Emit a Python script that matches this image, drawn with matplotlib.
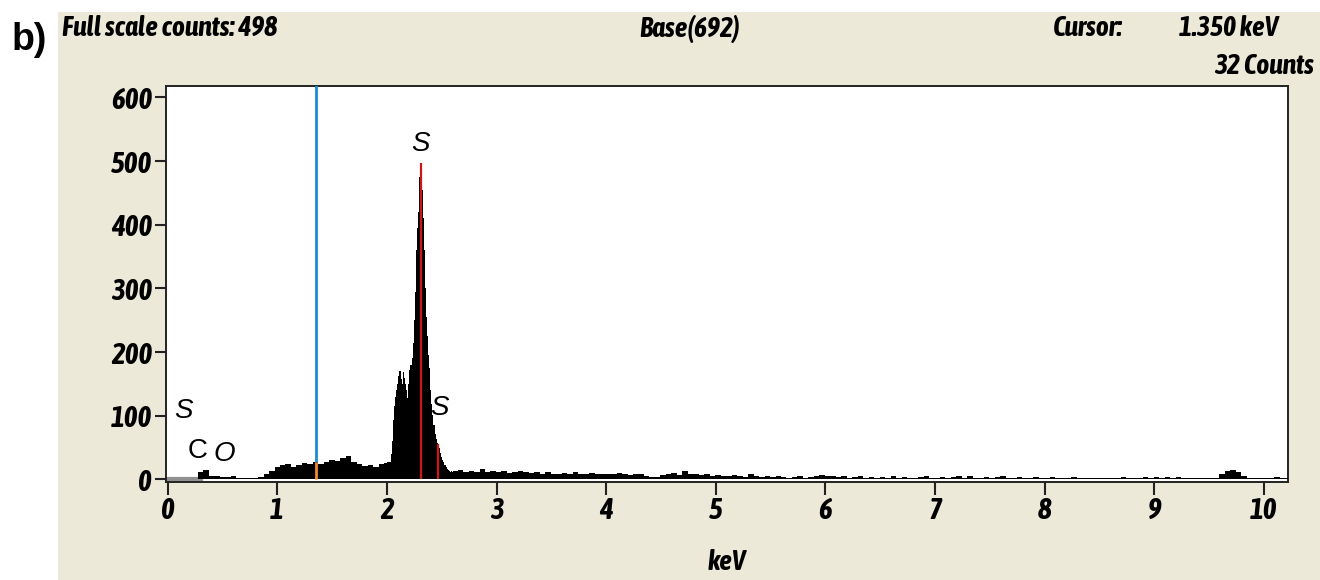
import matplotlib
matplotlib.use("Agg")
import matplotlib.pyplot as plt
from matplotlib import font_manager
from matplotlib.patches import Rectangle
import numpy as np

# ---- spectrum data (counts per channel) ----
# 0.00 - 1.95 keV, 0.05 keV channels
low_start, low_step = 0.00, 0.05
low_counts = [0, 0, 0, 0, 0, 0, 11, 15, 6, 5,
              4, 4, 5, 3, 3, 3, 3, 4, 9, 13,
              19, 22, 24, 20, 23, 26, 24, 27, 25, 28,
              30, 29, 33, 37, 27, 25, 21, 22, 20, 24]

# 2.00 - 2.61 keV, 0.01 keV channels (S K peak)
peak_start, peak_step = 2.00, 0.01
peak_counts = [26, 27, 27, 28, 40, 60, 94, 115, 130, 141,
               150, 162, 170, 158, 150, 168, 160, 150, 140, 128,
               150, 172, 180, 190, 215, 250, 295, 360, 395, 420,
               475, 490, 455, 410, 360, 300, 255, 225, 195, 175,
               140, 118, 102, 85, 72, 63, 58, 56, 50, 42,
               36, 31, 27, 23, 20, 17, 15, 14, 12, 13,
               12, 13]

# 2.62 - 10.22 keV, 0.05 keV channels
high_start, high_step = 2.62, 0.05
high_counts = [13, 15, 11, 14, 12, 16, 12, 13,
               11, 13, 10, 12, 14, 11, 10, 12, 9, 11,
               9, 8, 10, 8, 11, 9, 8, 10, 9, 8,
               9, 8, 10, 9, 7, 8, 9, 5, 4, 4,
               7, 8, 10, 7, 14, 8, 9, 7, 8, 6,
               7, 6, 5, 7, 5, 4, 8, 5, 4, 6,
               4, 5, 4, 3, 4, 6, 3, 4, 5, 7,
               6, 5, 4, 5, 3, 4, 5, 3, 4, 3,
               4, 3, 5, 3, 4, 3, 3, 4, 5, 3,
               3, 4, 3, 4, 5, 3, 5, 3, 3, 4,
               3, 4, 5, 3, 3, 4, 3, 3, 4, 3,
               3, 4, 3, 3, 3, 4, 3, 3, 3, 3,
               3, 3, 3, 3, 4, 3, 3, 3, 4, 3,
               4, 3, 4, 3, 4, 3, 3, 3, 3, 3,
               3, 3, 8, 13, 15, 11, 6, 3, 3, 3,
               3, 3, 4, 3, 3]

# element marker lines (keV, height)
marker_kev = [2.307, 2.464]
marker_top = [497, 55]

# peak labels
label_text = ["S", "S", "S", "C", "O"]
label_kev = [2.31, 2.48, 0.14, 0.27, 0.52]
label_cnt = [527, 113, 107, 44, 40]
label_style = ["italic", "italic", "italic", "normal", "italic"]

cursor_kev = 1.35
cursor_cnt = 27

x_ticks = [0, 1, 2, 3, 4, 5, 6, 7, 8, 9, 10]
y_ticks = [0, 100, 200, 300, 400, 500, 600]

BEIGE = "#ECE9D8"


def _weight(f):
    w = f.weight
    if isinstance(w, str):
        return font_manager.weight_dict.get(w, 400)
    return w


# pick a narrow/condensed bold face if one is installed
cands = [f for f in font_manager.fontManager.ttflist
         if ("Narrow" in f.name or "Condensed" in f.name
             or f.stretch in ("condensed", "semi-condensed", "extra-condensed", 300, 400))
         and _weight(f) >= 600]
cands.sort(key=lambda f: (abs(_weight(f) - 700), f.name))
if cands:
    FONT = [cands[0].name, "Liberation Sans", "DejaVu Sans"]
    STRETCH = cands[0].stretch
else:
    FONT = ["Liberation Sans", "DejaVu Sans"]
    STRETCH = "normal"

energy = np.concatenate([
    low_start + low_step * np.arange(len(low_counts)),
    peak_start + peak_step * np.arange(len(peak_counts)),
    high_start + high_step * np.arange(len(high_counts)),
])
counts = np.array(low_counts + peak_counts + high_counts, dtype=float)

fig = plt.figure(figsize=(13.2, 5.8), dpi=100)
fig.patch.set_facecolor("white")
fig.patches.append(Rectangle((58 / 1320, 0), 1 - 58 / 1320, 1 - 12 / 580,
                             transform=fig.transFigure, facecolor=BEIGE,
                             edgecolor="none", zorder=-1))

ax = fig.add_axes([166 / 1320, 1 - 482 / 580, 1122 / 1320, 396 / 580])
ax.set_facecolor("white")

# gray baseline before the first counts
ax.plot([0, 0.3], [0, 0], color="#909090", lw=3, zorder=2)
ax.fill_between(energy, 0, counts, step="mid", color="black", lw=0, zorder=3)

ax.vlines(marker_kev, 0, marker_top, color="#D01515", lw=1.6, zorder=4)
ax.vlines(cursor_kev, cursor_cnt, 640, color="#1E8ACF", lw=2, zorder=4)
ax.vlines(cursor_kev, 0, cursor_cnt, color="#F08A30", lw=2, zorder=4)

for t, xk, yc, st in zip(label_text, label_kev, label_cnt, label_style):
    ax.text(xk, yc, t, ha="center", va="center", fontsize=20, style=st,
            family=["Liberation Sans", "DejaVu Sans"], color="black", zorder=5)

ax.set_xlim(-0.015, 10.22)
ax.set_ylim(-4, 618)
ax.set_xticks(x_ticks)
ax.set_yticks(y_ticks)
ax.set_xticklabels([str(v) for v in x_ticks])
ax.set_yticklabels([str(v) for v in y_ticks])
for lab in ax.get_xticklabels() + ax.get_yticklabels():
    lab.set_family(FONT)
    lab.set_fontstretch(STRETCH)
    lab.set_fontsize(21)
    lab.set_fontweight("bold")
    lab.set_style("italic")
ax.tick_params(axis="x", direction="out", length=9, width=1.5, pad=1, color="#222222")
ax.tick_params(axis="y", direction="out", length=8, width=1.5, pad=2, color="#222222")
for sp in ax.spines.values():
    sp.set_color("#222222")
    sp.set_linewidth(1.4)

hdr = dict(family=FONT, fontstretch=STRETCH, fontsize=20, fontweight="bold",
           style="italic", va="center")
fig.text(12 / 1320, 1 - 40 / 580, "b)", family=["Liberation Sans", "DejaVu Sans"],
         fontsize=27, fontweight="bold", va="center", ha="left")
fig.text(62 / 1320, 1 - 29 / 580, "Full scale counts: 498", ha="left", **hdr)
fig.text(690 / 1320, 1 - 29 / 580, "Base(692)", ha="center", **hdr)
fig.text(1053 / 1320, 1 - 29 / 580, "Cursor:", ha="left", **hdr)
fig.text(1278 / 1320, 1 - 29 / 580, f"{cursor_kev:.3f} keV", ha="right", **hdr)
fig.text(1314 / 1320, 1 - 67 / 580, "32 Counts", ha="right", **hdr)
fig.text(727 / 1320, 1 - 563 / 580, "keV", ha="center", **hdr)

fig.savefig("out.png", dpi=100)
